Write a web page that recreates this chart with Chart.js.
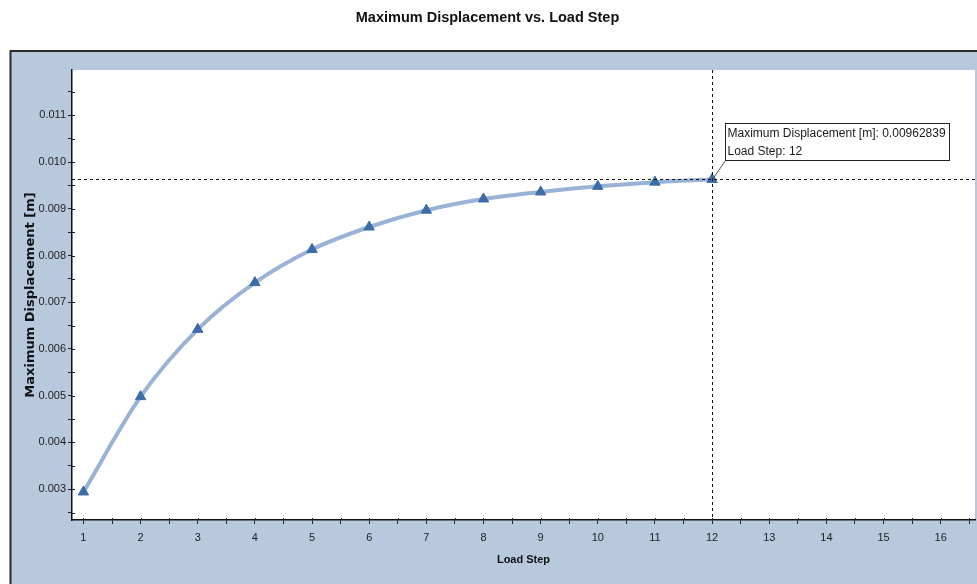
<!DOCTYPE html>
<html>
<head>
<meta charset="utf-8">
<script src="https://cdn.jsdelivr.net/npm/chart.js@4/dist/chart.umd.min.js"></script>
<style>
  html, body { margin: 0; padding: 0; background: #ffffff; }
  canvas { display: block; }
</style>
</head>
<body>
<canvas id="chart" width="977" height="584"></canvas>
<script>
// Maximum displacement per load step
const loadSteps = [1, 2, 3, 4, 5, 6, 7, 8, 9, 10, 11, 12];
const maxDisplacement = [0.00294, 0.00498, 0.00642, 0.00742, 0.00813, 0.00861,
                         0.00897, 0.00921, 0.00936, 0.00948, 0.00957, 0.00962839];

// Axis ticks (major ticks carry a label, minor ticks are blank)
const yTickValues = [0.0025, 0.003, 0.0035, 0.004, 0.0045, 0.005, 0.0055, 0.006, 0.0065,
                     0.007, 0.0075, 0.008, 0.0085, 0.009, 0.0095, 0.010, 0.0105, 0.011, 0.0115];
const yTickLabels = ['', '0.003', '', '0.004', '', '0.005', '', '0.006', '', '0.007', '',
                     '0.008', '', '0.009', '', '0.010', '', '0.011', ''];
const xTickValues = [1, 1.5, 2, 2.5, 3, 3.5, 4, 4.5, 5, 5.5, 6, 6.5, 7, 7.5, 8, 8.5,
                     9, 9.5, 10, 10.5, 11, 11.5, 12, 12.5, 13, 13.5, 14, 14.5, 15, 15.5, 16, 16.5];
const xTickLabels = ['1', '', '2', '', '3', '', '4', '', '5', '', '6', '', '7', '', '8', '',
                     '9', '', '10', '', '11', '', '12', '', '13', '', '14', '', '15', '', '16', ''];

// Probed point shown with crosshair and label
const probeIndex = 11;

const PANEL_BLUE = '#b8c9dd';
const LINE_BLUE = '#98b3d5';
const MARK_BLUE = '#3d6ca6';

const points = loadSteps.map((s, i) => ({ x: s, y: maxDisplacement[i] }));

// Blue frame around the plot, white plot area
const panelPlugin = {
  id: 'panel',
  beforeDraw(chart) {
    const { ctx, chartArea: a } = chart;
    ctx.save();
    ctx.fillStyle = '#ffffff';
    ctx.fillRect(0, 0, chart.width, chart.height);
    ctx.fillStyle = PANEL_BLUE;
    ctx.fillRect(10, 51, chart.width - 10, chart.height - 51);
    ctx.strokeStyle = '#2b2b2b';
    ctx.lineWidth = 2;
    ctx.beginPath();
    ctx.moveTo(10.5, chart.height);
    ctx.lineTo(10.5, 51);
    ctx.lineTo(chart.width, 51);
    ctx.stroke();
    ctx.fillStyle = '#ffffff';
    ctx.fillRect(a.left, a.top, a.right - a.left, a.bottom - a.top);
    ctx.restore();
  }
};

// Short inner tick marks that cross the axis lines
const innerTickPlugin = {
  id: 'innerTicks',
  afterDraw(chart) {
    const { ctx, chartArea: a, scales } = chart;
    ctx.save();
    ctx.strokeStyle = '#222';
    ctx.lineWidth = 1;
    ctx.beginPath();
    scales.y.ticks.forEach(t => {
      const py = Math.round(scales.y.getPixelForValue(t.value)) + 0.5;
      ctx.moveTo(a.left, py);
      ctx.lineTo(a.left + 3, py);
    });
    scales.x.ticks.forEach(t => {
      const px = Math.round(scales.x.getPixelForValue(t.value)) + 0.5;
      ctx.moveTo(px, a.bottom);
      ctx.lineTo(px, a.bottom - 2);
    });
    ctx.stroke();
    ctx.restore();
  }
};

// Dashed crosshair through the probed point, with its value box
const probePlugin = {
  id: 'probe',
  afterDatasetsDraw(chart) {
    const { ctx, chartArea: a, scales } = chart;
    const px = Math.round(scales.x.getPixelForValue(loadSteps[probeIndex])) + 0.5;
    const py = Math.round(scales.y.getPixelForValue(maxDisplacement[probeIndex])) + 0.5;
    ctx.save();
    ctx.strokeStyle = '#111';
    ctx.lineWidth = 1;
    ctx.setLineDash([3, 3]);
    ctx.beginPath();
    ctx.moveTo(a.left, py); ctx.lineTo(a.right, py);
    ctx.moveTo(px, a.top); ctx.lineTo(px, a.bottom);
    ctx.stroke();
    ctx.setLineDash([]);

    const lines = ['Maximum Displacement [m]: ' + String(maxDisplacement[probeIndex]),
                   'Load Step: ' + loadSteps[probeIndex]];
    ctx.font = '12px "Liberation Sans", Arial, sans-serif';
    const w = Math.ceil(Math.max(...lines.map(l => ctx.measureText(l).width))) + 5;
    const h = 37;
    const bx = Math.round(px + 12) + 0.5;
    const by = Math.round(py - 57) + 0.5;
    ctx.strokeStyle = '#555';
    ctx.beginPath();
    ctx.moveTo(px, py);
    ctx.lineTo(bx, by + h);
    ctx.stroke();
    ctx.fillStyle = '#ffffff';
    ctx.fillRect(bx, by, w, h);
    ctx.strokeStyle = '#222';
    ctx.strokeRect(bx, by, w, h);
    ctx.fillStyle = '#1a1a1a';
    ctx.textBaseline = 'middle';
    ctx.textAlign = 'left';
    ctx.fillText(lines[0], bx + 2, by + 10);
    ctx.fillText(lines[1], bx + 2, by + 28);
    ctx.restore();
  }
};

new Chart(document.getElementById('chart'), {
  type: 'line',
  data: {
    datasets: [{
      label: 'Maximum Displacement [m]',
      data: points,
      borderColor: LINE_BLUE,
      borderWidth: 4,
      cubicInterpolationMode: 'monotone',
      pointStyle: 'triangle',
      pointRadius: 6,
      pointBackgroundColor: MARK_BLUE,
      pointBorderColor: MARK_BLUE,
      pointBorderWidth: 1,
      fill: false
    }]
  },
  options: {
    responsive: false,
    animation: false,
    devicePixelRatio: 1,
    layout: { autoPadding: false, padding: { left: 0, right: 2, top: 0, bottom: 0 } },
    plugins: {
      legend: { display: false },
      tooltip: { enabled: false },
      title: {
        display: true,
        text: 'Maximum Displacement vs. Load Step',
        color: '#111',
        font: { family: '"Liberation Sans", Arial, sans-serif', weight: 'bold', size: 14.5 },
        padding: { top: 9, bottom: 43.6 }
      }
    },
    scales: {
      x: {
        type: 'linear',
        min: 0.8,
        max: 16.6,
        afterFit(s) { s.height = 64; s.paddingLeft = 0; s.paddingRight = 0; },
        afterBuildTicks(s) { s.ticks = xTickValues.map(v => ({ value: v })); },
        ticks: {
          autoSkip: false,
          maxRotation: 0,
          padding: 7,
          color: '#222',
          font: { family: '"Liberation Sans", Arial, sans-serif', size: 11 },
          callback: (v, i) => xTickLabels[i]
        },
        grid: { drawOnChartArea: false, drawTicks: true, tickLength: 4, color: '#222', lineWidth: 1 },
        border: { display: true, color: '#111', width: 1.5 },
        title: {
          display: true,
          text: 'Load Step',
          color: '#111',
          font: { family: '"Liberation Sans", Arial, sans-serif', weight: 'bold', size: 11 },
          padding: { top: 0, bottom: 17 }
        }
      },
      y: {
        type: 'linear',
        min: 0.00234,
        max: 0.01197,
        afterFit(s) { s.width = 72; s.paddingTop = 0; s.paddingBottom = 0; },
        afterBuildTicks(s) { s.ticks = yTickValues.map(v => ({ value: v })); },
        ticks: {
          autoSkip: false,
          padding: 2,
          color: '#222',
          font: { family: '"Liberation Sans", Arial, sans-serif', size: 11 },
          callback: (v, i) => yTickLabels[i]
        },
        grid: { drawOnChartArea: false, drawTicks: true, tickLength: 4, color: '#222', lineWidth: 1 },
        border: { display: true, color: '#111', width: 1.5 },
        title: {
          display: true,
          text: 'Maximum Displacement [m]',
          color: '#111',
          font: { family: '"DejaVu Sans", sans-serif', weight: 'bold', size: 13 },
          padding: { top: 23, bottom: 0 }
        }
      }
    }
  },
  plugins: [panelPlugin, innerTickPlugin, probePlugin]
});
</script>
</body>
</html>
